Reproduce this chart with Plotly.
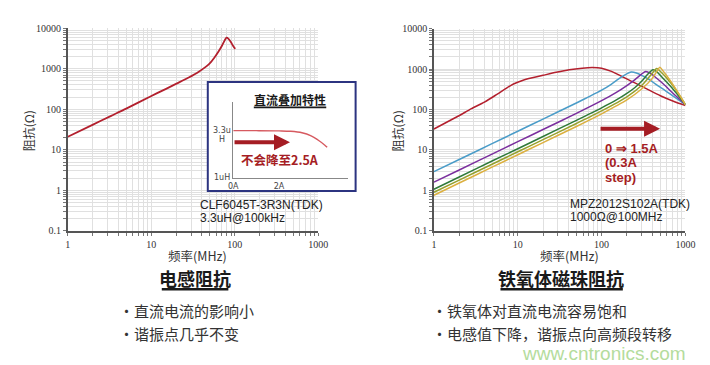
import plotly.graph_objects as go

W, H = 710, 365

# ---------------- data ----------------
# Left: inductor CLF6045T-3R3N (TDK) impedance vs frequency
ind_freq = [1, 2, 3.3, 5, 9.6, 15, 20, 28, 37, 49, 57, 64, 70, 75, 79.5, 84, 90, 95, 101]
ind_z = [21, 42, 69, 104, 205, 320, 430, 610, 850, 1300, 1900, 2700, 3700, 4900, 5900, 5500, 4500, 3700, 3100]

# Right: ferrite bead MPZ2012S102A (TDK), DC bias 0 -> 1.5 A (0.3 A step)
bead_labels = ["0A", "0.3A", "0.6A", "0.9A", "1.2A", "1.5A"]
bead_freq_0a = [1, 1.96, 2.8, 4.0, 5.7, 8.2, 9.8, 12, 14, 20, 28.7, 41, 58.7, 77, 100, 131, 172, 225, 294, 350, 502, 719, 1000]
bead_z_0a = [33, 69, 105, 152, 240, 390, 465, 545, 590, 700, 830, 960, 1052, 1090, 1052, 875, 664, 504, 382, 318, 219, 160, 125]
bead_freq_03a = [1, 2, 5, 10, 20, 50, 70, 100, 130, 160, 190, 226, 260, 300, 370, 450, 580, 750, 1000]
bead_z_03a = [2.9, 5.8, 14.5, 29, 58, 145, 205, 300, 420, 570, 720, 843, 800, 700, 550, 410, 290, 200, 132]
bead_freq_06a = [1, 2, 5, 10, 20, 50, 100, 150, 200, 250, 300, 336, 380, 450, 550, 700, 1000]
bead_z_06a = [1.6, 3.2, 8, 16, 32, 80, 165, 265, 390, 550, 750, 870, 790, 600, 420, 260, 133]
bead_freq_09a = [1, 2, 5, 10, 20, 50, 100, 150, 200, 250, 300, 350, 410, 450, 500, 600, 750, 1000]
bead_z_09a = [1.07, 2.14, 5.4, 10.7, 21.5, 54, 110, 172, 250, 350, 500, 720, 960, 880, 700, 470, 280, 133]
bead_freq_12a = [1, 2, 5, 10, 20, 50, 100, 200, 300, 380, 455, 500, 600, 750, 1000]
bead_z_12a = [0.9, 1.8, 4.5, 9, 18, 45, 92, 205, 390, 680, 1030, 880, 590, 330, 132]
bead_freq_15a = [1, 2, 5, 10, 20, 50, 100, 200, 300, 400, 460, 495, 540, 650, 800, 1000]
bead_z_15a = [0.76, 1.52, 3.8, 7.6, 15.2, 38, 78, 172, 320, 580, 900, 1100, 900, 540, 280, 130]

bead_freqs = [bead_freq_0a, bead_freq_03a, bead_freq_06a, bead_freq_09a, bead_freq_12a, bead_freq_15a]
bead_zs = [bead_z_0a, bead_z_03a, bead_z_06a, bead_z_09a, bead_z_12a, bead_z_15a]

# Inset: DC superposition characteristic (inductance vs DC current)
dc_current = [0, 1, 2, 2.5, 3, 3.4, 3.7, 4.0, 4.1]
dc_induct = [3.3, 3.3, 3.29, 3.27, 3.2, 3.05, 2.85, 2.6, 2.5]

# tick labels
x_decades = [1, 10, 100, 1000]
x_labels = ["1", "10", "100", "1000"]
y_decades = [0.1, 1, 10, 100, 1000, 10000]
y_labels = ["0.1", "1", "10", "100", "1000", "10000"]
inset_x_ticks = [0, 2]
inset_x_labels = ["0A", "2A"]

# ---------------- styles ----------------
bead_colors = ["#b3202e", "#4a9cc8", "#7b2f9e", "#2f7a3a", "#95a12c", "#dcb040"]
DARK_RED = "#a51d24"
CJK = "Noto Sans CJK SC"
LAT = "Liberation Sans"
TICKFONT = "Liberation Serif"


def px(x):
    return x / W


def py(y):
    return 1 - y / H


def minor_vals(decades):
    vals = []
    for d in decades[:-1]:
        for m in range(1, 10):
            vals.append(d * m)
    vals.append(decades[-1])
    return vals


def minor_text(decades, labels):
    vals = minor_vals(decades)
    lab = dict(zip(decades, labels))
    out = []
    for v in vals:
        key = None
        for d in decades:
            if abs(v - d) < 1e-9 * max(1, d):
                key = d
        out.append(lab[key] if key is not None else "")
    return out


fig = go.Figure()

fig.add_trace(go.Scatter(x=ind_freq, y=ind_z, mode="lines",
                         line=dict(color="#b3202e", width=1.8, shape="spline", smoothing=0.8),
                         xaxis="x", yaxis="y", showlegend=False, hoverinfo="skip"))

for f, z, c, name in zip(bead_freqs, bead_zs, bead_colors, bead_labels):
    fig.add_trace(go.Scatter(x=f, y=z, mode="lines", name=name,
                             line=dict(color=c, width=1.5, shape="spline", smoothing=0.7),
                             xaxis="x2", yaxis="y2", showlegend=False, hoverinfo="skip"))

# inset background subplot (white box covering the main grid)
fig.add_trace(go.Scatter(x=[None], y=[None], xaxis="x3", yaxis="y3", showlegend=False, hoverinfo="skip"))
# inset mini chart
fig.add_trace(go.Scatter(x=dc_current, y=dc_induct, mode="lines",
                         line=dict(color="#d65a60", width=1.4, shape="spline"),
                         xaxis="x4", yaxis="y4", showlegend=False, hoverinfo="skip"))

common = dict(type="log", showline=True, linecolor="#555", linewidth=1.5,
              ticks="outside", ticklen=3, tickcolor="#777", tickwidth=1,
              showgrid=True, gridcolor="#e0e0e0", gridwidth=1, zeroline=False,
              tickfont=dict(family=TICKFONT, size=10, color="#333"),
              tickmode="array", fixedrange=True)

xt = dict(tickvals=minor_vals(x_decades), ticktext=minor_text(x_decades, x_labels), range=[-0.0005, 3.0005])
yt = dict(tickvals=minor_vals(y_decades), ticktext=minor_text(y_decades, y_labels), range=[-1.0005, 4.0005])

fig.update_layout(
    width=W, height=H, margin=dict(l=0, r=0, t=0, b=0),
    paper_bgcolor="white", plot_bgcolor="white", showlegend=False,
    xaxis=dict(domain=[px(56), px(312)], anchor="y", **common, **xt),
    yaxis=dict(domain=[py(224), py(15.7)], anchor="x", **common, **yt),
    xaxis2=dict(domain=[px(430), px(687)], anchor="y2", **common, **xt),
    yaxis2=dict(domain=[py(224), py(16)], anchor="x2", **common, **yt),
    xaxis3=dict(domain=[px(199), px(350)], anchor="y3", visible=False, range=[0, 1], fixedrange=True),
    yaxis3=dict(domain=[py(183), py(71)], anchor="x3", visible=False, range=[0, 1], fixedrange=True),
    xaxis4=dict(domain=[px(225), px(342)], anchor="y4", range=[0, 5], showline=True, linecolor="#888",
                linewidth=1, showgrid=False, zeroline=False, ticks="", tickmode="array",
                tickvals=inset_x_ticks, ticktext=inset_x_labels,
                tickfont=dict(family="DejaVu Sans", size=8, color="#444"), fixedrange=True),
    yaxis4=dict(domain=[py(170), py(92)], anchor="x4", range=[1, 4.66], showline=True, linecolor="#888",
                linewidth=1, showgrid=False, zeroline=False, showticklabels=False, ticks="", fixedrange=True),
)


def ann(text, x, y, size, color="#222", family=CJK, xanchor="center", angle=0):
    fig.add_annotation(text=text, x=px(x), y=py(y), xref="paper", yref="paper",
                       xanchor=xanchor, yanchor="middle", showarrow=False, textangle=angle,
                       font=dict(family=family, size=size, color=color))


def hline(x0, x1, y, color="#222", width=2):
    fig.add_shape(type="line", xref="paper", yref="paper", x0=px(x0), x1=px(x1), y0=py(y), y1=py(y),
                  line=dict(color=color, width=width), layer="above")


def arrow(x0, x1, y, width=4):
    fig.add_annotation(x=px(x1), y=py(y), xref="paper", yref="paper", ax=-(x1 - x0), ay=0,
                       axref="pixel", ayref="pixel", text="", showarrow=True,
                       arrowhead=2, arrowsize=0.8, arrowwidth=width, arrowcolor=DARK_RED)


# axis titles
ann("阻抗(Ω)", 16, 121, 12, "#333", angle=-90)
ann("阻抗(Ω)", 393, 121, 12, "#333", angle=-90)
ann("频率(MHz)", 188, 249, 12.5, "#333")
ann("频率(MHz)", 568, 249, 12.5, "#333")

# section titles
ann("<b>电感阻抗</b>", 186, 272, 18, "#1a1a1a")
hline(152, 220, 284, "#1a1a1a", 2.5)
ann("<b>铁氧体磁珠阻抗</b>", 560, 272, 18, "#1a1a1a")
hline(498, 623, 284, "#1a1a1a", 2.5)

# bullets
ann("・直流电流的影响小", 106, 306, 15, "#333", xanchor="left")
ann("・谐振点几乎不变", 106, 330, 15, "#333", xanchor="left")
ann("・铁氧体对直流电流容易饱和", 426, 306, 15, "#333", xanchor="left")
ann("・电感值下降，谐振点向高频段转移", 426, 330, 15, "#333", xanchor="left")

# watermark
ann("www.cntronics.com", 690, 350, 19, "#b4dc9c", family=LAT, xanchor="right")

# part labels
ann("CLF6045T-3R3N(TDK)", 189, 197, 12, "#222", family=LAT, xanchor="left")
ann("3.3uH@100kHz", 189, 211, 12, "#222", family=LAT, xanchor="left")
ann("MPZ2012S102A(TDK)", 567, 196, 12, "#222", family=LAT, xanchor="left")
ann("1000Ω@100MHz", 567, 210, 12, "#222", family=LAT, xanchor="left")

# right chart current sweep note
arrow(600, 661, 119, 4)
ann("<b>0 ⇒ 1.5A</b>", 603, 139, 13, DARK_RED, family=LAT, xanchor="left")
ann("<b>(0.3A</b>", 603, 154, 13, DARK_RED, family=LAT, xanchor="left")
ann("<b>step)</b>", 603, 169, 13, DARK_RED, family=LAT, xanchor="left")

# inset content
fig.add_shape(type="rect", xref="paper", yref="paper", x0=px(199), x1=px(350), y0=py(183), y1=py(71),
              line=dict(color="#2c3480", width=2), fillcolor="rgba(0,0,0,0)", layer="above")
ann("<b>直流叠加特性</b>", 283, 89, 12, "#1a1a1a")
hline(246, 320, 97, "#1a1a1a", 1.8)
ann("3.3u", 213, 121, 8, "#444", family="DejaVu Sans")
ann("H", 213, 130, 8, "#444", family="DejaVu Sans")
ann("1uH", 214, 169, 8, "#444", family="DejaVu Sans")
arrow(226, 283, 133, 4)
ann("<b>不会降至2.5A</b>", 273, 151, 12.5, DARK_RED)

fig.write_html("out.html")
